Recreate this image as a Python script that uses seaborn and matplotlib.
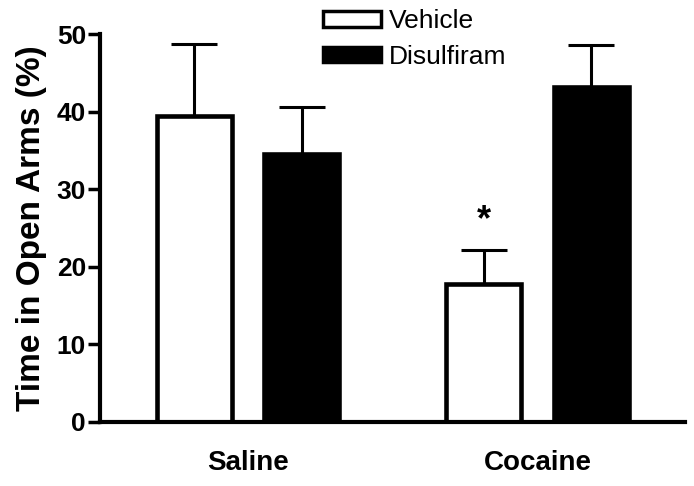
import matplotlib
matplotlib.use("Agg")
import matplotlib.pyplot as plt
import pandas as pd
import seaborn as sns

groups = ["Saline", "Cocaine"]
treatments = ["Vehicle", "Disulfiram"]
means = {"Vehicle": [39.4, 17.8], "Disulfiram": [34.5, 43.2]}
sems = {"Vehicle": [9.3, 4.3], "Disulfiram": [6.1, 5.4]}

rows = []
for t in treatments:
    for g, m, s in zip(groups, means[t], sems[t]):
        rows.append({"group": g, "treatment": t, "value": m, "sem": s})
df = pd.DataFrame(rows)

sns.set_style("white")
plt.rcParams["font.family"] = ["Liberation Sans", "DejaVu Sans"]
plt.rcParams.update({"text.color": "black", "axes.labelcolor": "black",
                     "xtick.color": "black", "ytick.color": "black"})

fig = plt.figure(figsize=(6.94, 4.86), dpi=100)
ax = fig.add_axes([0.144, 0.132, 0.843, 0.798])

sns.barplot(data=df, x="group", y="value", hue="treatment", order=groups,
            hue_order=treatments, palette={"Vehicle": "white", "Disulfiram": "black"},
            edgecolor="black", linewidth=3.3, width=0.742, gap=0.30,
            errorbar=None, legend=False, ax=ax)

# upper-only SEM bars
for t, cont in zip(treatments, ax.containers):
    for bar, s in zip(cont, sems[t]):
        x = bar.get_x() + bar.get_width() / 2
        h = bar.get_height()
        ax.errorbar(x, h, yerr=[[0], [s]], fmt="none", ecolor="black",
                    elinewidth=2.2, capsize=16.5, capthick=2.2, zorder=1)

# significance mark over cocaine/vehicle
v = ax.containers[0][1]
ax.text(v.get_x() + v.get_width() / 2, 26.0, "*", ha="center", va="center",
        fontsize=26, fontweight="bold")

ax.set_xlim(-0.511, 1.509)
ax.set_ylim(0, 50)
ax.set_yticks([0, 10, 20, 30, 40, 50])
ax.set_xlabel("")
ax.set_ylabel("Time in Open Arms (%)", fontsize=24, fontweight="bold", labelpad=7)
for lab in ax.get_yticklabels():
    lab.set_fontweight("bold")
    lab.set_fontsize(19)
for lab in ax.get_xticklabels():
    lab.set_fontweight("bold")
    lab.set_fontsize(20)
ax.tick_params(axis="y", length=9, width=2.5, direction="out", pad=1, left=True)
ax.tick_params(axis="x", length=0, pad=20)

sns.despine(ax=ax)
for sp in ["left", "bottom"]:
    ax.spines[sp].set_linewidth(3)
    ax.spines[sp].set_color("black")

handles = [plt.Rectangle((0, 0), 1, 1, facecolor="white", edgecolor="black", linewidth=2.5),
           plt.Rectangle((0, 0), 1, 1, facecolor="black", edgecolor="black", linewidth=2.5)]
fig.legend(handles, treatments, loc="upper left", bbox_to_anchor=(323 / 694, 1 - 9 / 486),
           frameon=False, fontsize=19, handlelength=2.2, handleheight=0.55,
           handletextpad=0.3, labelspacing=0.45, borderpad=0, borderaxespad=0)

fig.savefig("out.png", dpi=100)
